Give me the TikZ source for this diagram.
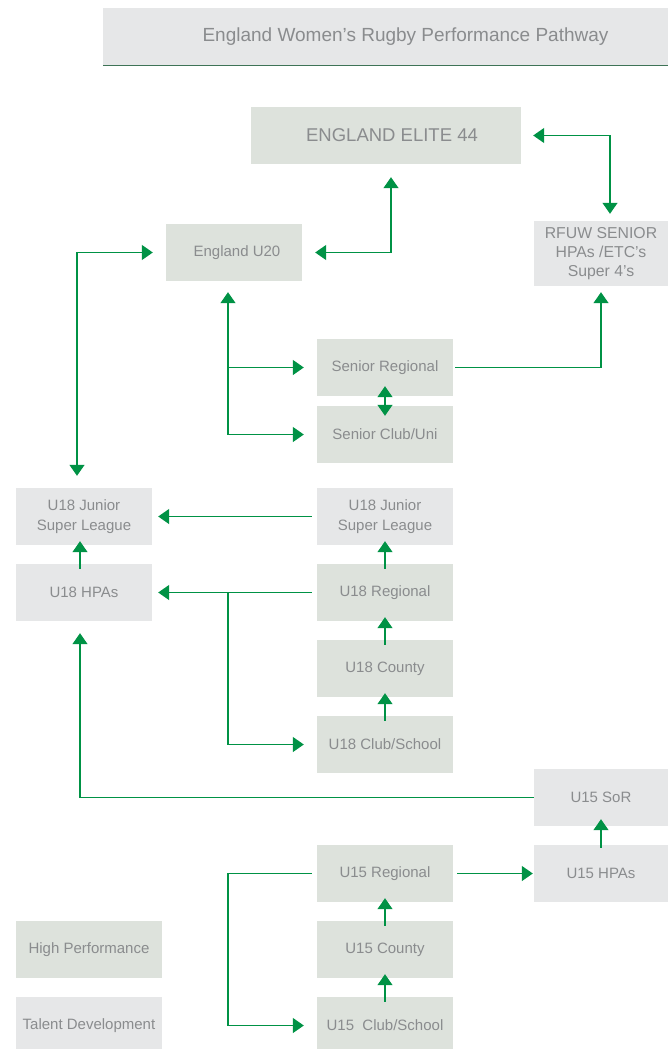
\documentclass[tikz,border=0pt]{standalone}
\usepackage{fontspec}
\setmainfont{Liberation Sans}
\usetikzlibrary{arrows.meta}
\definecolor{hpgreen}{HTML}{DDE2DC}
\definecolor{tdgrey}{HTML}{E6E7E8}
\definecolor{labelgrey}{HTML}{8A8C8E}
\definecolor{pathgreen}{HTML}{009245}
\definecolor{ruleline}{HTML}{3E7356}

\begin{document}
\begin{tikzpicture}[x=1pt, y=-1pt,
  >={Triangle[width=15pt,length=11pt]},
  box/.style={minimum width=136pt, minimum height=57pt, inner sep=0pt, align=center,
    text=labelgrey, font=\fontsize{15}{19.5}\selectfont},
  hp/.style={box, fill=hpgreen},
  td/.style={box, fill=tdgrey},
  arr/.style={draw=pathgreen, line width=1.3pt, ->},
  dbl/.style={draw=pathgreen, line width=1.3pt, <->}]
\useasboundingbox (0,0) rectangle (668,1049);

% title
\node[td, minimum width=605pt, font=\fontsize{19}{23}\selectfont] (title) at (405.5,36.5) {England Women’s Rugby Performance Pathway};
\draw[ruleline, line width=1pt] (title.south west) -- (title.south east);

% senior
\node[hp, minimum width=270pt, font=\fontsize{18.5}{22}\selectfont] (elite) at (386,135.5) {\hspace*{12pt}ENGLAND ELITE 44};
\node[hp] (u20) at (234,252.5) {\hspace*{6pt}England U20};
\node[td, minimum width=134pt, minimum height=65pt, font=\fontsize{15.8}{18.8}\selectfont] (rfuw) at (601,253.5) {RFUW SENIOR\\HPAs /ETC’s\\Super 4’s};
\node[hp] (sreg) at (385,367.5) {Senior Regional};
\node[hp] (sclub) at (385,434.5) {Senior Club/Uni};

% under 18
\node[td] (jslL) at (84,516.5) {U18 Junior\\Super League};
\node[td] (jslR) at (385,516.5) {U18 Junior\\Super League};
\node[td] (hpa18) at (84,592.5) {U18 HPAs};
\node[hp] (reg18) at (385,592.5) {U18 Regional};
\node[hp] (cty18) at (385,668.5) {U18 County};
\node[hp] (club18) at (385,744.5) {U18 Club/School};

% under 15
\node[td, minimum width=134pt] (sor15) at (601,797.5) {U15 SoR};
\node[hp] (reg15) at (385,873.5) {U15 Regional};
\node[td, minimum width=134pt] (hpa15) at (601,873.5) {U15 HPAs};
\node[hp] (cty15) at (385,949.5) {U15 County};
\node[hp] (club15) at (385,1025.5) {U15\ \ Club/School};

% key
\node[hp, minimum width=146pt] (keyhp) at (89,949.5) {High Performance};
\node[td, minimum width=146pt] (keytd) at (89,1025.5) {Talent Development};

% links
\draw[dbl, shorten <=12pt, shorten >=7pt] (elite.east) -| ([xshift=9pt]rfuw.north);
\draw[dbl, shorten <=13pt, shorten >=13pt] ([xshift=5pt]elite.south) |- (u20.east);
\draw[dbl, shorten <=13pt, shorten >=12pt] (u20.west) -| ([xshift=-7pt]jslL.north);
\coordinate (sfork) at ([xshift=-6pt]u20.south |- sclub.west);
\draw[arr, shorten >=11pt] (sfork) -- ([xshift=-6pt]u20.south);
\draw[arr, shorten >=13pt] (sfork) -- (sclub.west);
\draw[arr, shorten >=13pt] (sfork |- sreg.west) -- (sreg.west);
\draw[arr, shorten <=2pt, shorten >=6pt] (sreg.east) -| (rfuw.south);
\draw[dbl, shorten <=-10pt, shorten >=-10pt] (sreg.south) -- (sclub.north);

\draw[arr, shorten <=5pt, shorten >=6pt] (jslR.west) -- (jslL.east);
\draw[arr, shorten <=-5pt, shorten >=-4pt] ([xshift=-4pt]hpa18.north) -- ([xshift=-4pt]jslL.south);
\draw[arr, shorten <=-5pt, shorten >=-4pt] (reg18.north) -- (jslR.south);
\draw[arr, shorten <=5pt, shorten >=6pt] (reg18.west) -- (hpa18.east);
\draw[arr, shorten >=13pt] (sfork |- reg18.west) |- (club18.west);
\draw[arr, shorten <=-5pt, shorten >=-4pt] (cty18.north) -- (reg18.south);
\draw[arr, shorten <=-5pt, shorten >=-4pt] (club18.north) -- (cty18.south);

\draw[arr, shorten >=12pt] (sor15.west) -| ([xshift=-4pt]hpa18.south);
\draw[arr, shorten <=-3pt, shorten >=-7pt] (hpa15.north) -- (sor15.south);
\draw[arr, shorten <=4pt, shorten >=1pt] (reg15.east) -- (hpa15.west);
\draw[arr, shorten <=5pt, shorten >=13pt] (reg15.west) -- (sfork |- reg15.west) |- (club15.west);
\draw[arr, shorten <=-5pt, shorten >=-4pt] (cty15.north) -- (reg15.south);
\draw[arr, shorten <=-5pt, shorten >=-4pt] (club15.north) -- (cty15.south);
\end{tikzpicture}
\end{document}
